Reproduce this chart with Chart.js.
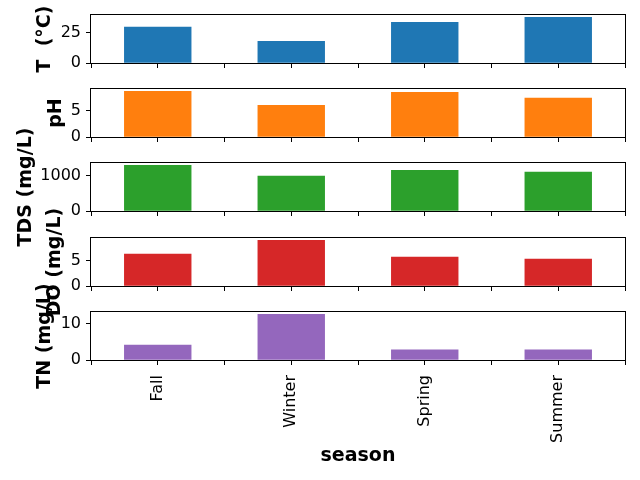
<!DOCTYPE html>
<html><head><meta charset="utf-8">
<script src="https://cdn.jsdelivr.net/npm/chart.js@4/dist/chart.umd.min.js"></script>
<style>
html,body{margin:0;padding:0;background:#fff;}
#wrap{position:relative;width:640px;height:480px;}
#wrap canvas{position:absolute;left:0;top:0;}
</style></head><body>
<div id="wrap">
<canvas id="c0" width="640" height="480"></canvas>
<canvas id="c1" width="640" height="480"></canvas>
<canvas id="c2" width="640" height="480"></canvas>
<canvas id="c3" width="640" height="480"></canvas>
<canvas id="c4" width="640" height="480"></canvas>
</div>
<script>
// ---- data ----
const seasons = ['Fall', 'Winter', 'Spring', 'Summer'];
const tempC = [29.7, 17.9, 33.6, 37.7];
const phVals = [8.6, 5.95, 8.4, 7.3];
const tdsVals = [1300, 990, 1160, 1104];
const doVals = [6.3, 9.04, 5.72, 5.33];
const tnVals = [4.1, 12.5, 2.8, 2.8];
const yTitles = ['T  (°C)', 'pH', 'TDS (mg/L)', 'DO (mg/L)', 'TN (mg/L)'];
const yTickSteps = [25, 5, 1000, 5, 10];
const xTitle = 'season';

// ---- style / layout ----
const series = [tempC, phVals, tdsVals, doVals, tnVals];
const colors = ['#1f77b4', '#ff7f0e', '#2ca02c', '#d62728', '#9467bd'];
const panelTops = [15, 89, 163, 238, 312];
const panelH = 48;
const plotLeft = 91, plotRight = 625;
const titleBaselineX = [50, 61, 31, 60, 50];

Chart.defaults.font.family = 'DejaVu Sans';
Chart.defaults.color = '#000';

function makePanel(i) {
  const last = i === series.length - 1;
  const vals = series[i];
  const ymax = Math.max(...vals) * 1.05;
  const step = yTickSteps[i];
  const XH = last ? 480 - (panelTops[i] + panelH) : 10;
  const framePlugin = {
    id: 'frame' + i,
    afterDraw(chart) {
      const a = chart.chartArea, ctx = chart.ctx;
      ctx.save();
      ctx.strokeStyle = '#000';
      ctx.lineWidth = 1;
      ctx.strokeRect(Math.round(a.left) - 0.5, Math.round(a.top) - 0.5,
                     Math.round(a.right - a.left) + 1, Math.round(a.bottom - a.top) + 1);
      ctx.fillStyle = '#000';
      ctx.font = 'bold 19px "DejaVu Sans"';
      ctx.textAlign = 'center';
      ctx.textBaseline = 'alphabetic';
      ctx.translate(titleBaselineX[i], (a.top + a.bottom) / 2);
      ctx.rotate(-Math.PI / 2);
      ctx.fillText(yTitles[i], 0, 0);
      ctx.restore();
      if (last) {
        ctx.save();
        ctx.fillStyle = '#000';
        ctx.font = 'bold 19px "DejaVu Sans"';
        ctx.textAlign = 'center';
        ctx.textBaseline = 'middle';
        ctx.fillText(xTitle, (a.left + a.right) / 2, 456);
        ctx.restore();
      }
    }
  };
  return new Chart(document.getElementById('c' + i), {
    type: 'bar',
    data: {
      datasets: [{
        data: vals.map((v, k) => ({ x: k, y: v })),
        backgroundColor: colors[i],
        borderWidth: 0,
        barPercentage: 1,
        categoryPercentage: 1
      }]
    },
    options: {
      responsive: false,
      animation: false,
      devicePixelRatio: 1,
      layout: {
        padding: {
          top: panelTops[i], left: 0, right: 640 - plotRight,
          bottom: 480 - (panelTops[i] + panelH) - XH
        }
      },
      plugins: { legend: { display: false }, tooltip: { enabled: false } },
      scales: {
        x: {
          type: 'linear',
          min: -0.5, max: 3.5,
          offset: false,
          grid: { offset: false, drawOnChartArea: false, drawTicks: true, tickLength: 5, color: '#000', lineWidth: 1 },
          border: { display: false },
          ticks: {
            stepSize: 0.5,
            autoSkip: false,
            maxRotation: 90, minRotation: 90,
            padding: 10,
            font: { size: 16 },
            color: '#000',
            callback: (v) => (last && Number.isInteger(v)) ? seasons[v] : ''
          },
          afterFit(s) { s.height = XH; s.paddingLeft = 0; s.paddingRight = 0; }
        },
        y: {
          min: 0, max: ymax,
          grid: { drawOnChartArea: false, drawTicks: true, tickLength: 5, color: '#000', lineWidth: 1 },
          border: { display: false },
          ticks: { padding: 5, font: { size: 16 }, color: '#000', callback: (v) => String(v) },
          afterBuildTicks(s) {
            const t = [];
            for (let v = 0; v <= ymax; v += step) t.push({ value: v });
            s.ticks = t;
          },
          afterFit(s) { s.width = plotLeft; s.paddingTop = 0; s.paddingBottom = 0; }
        }
      }
    },
    plugins: [framePlugin]
  });
}
for (let i = 0; i < series.length; i++) makePanel(i);
</script>
</body></html>
